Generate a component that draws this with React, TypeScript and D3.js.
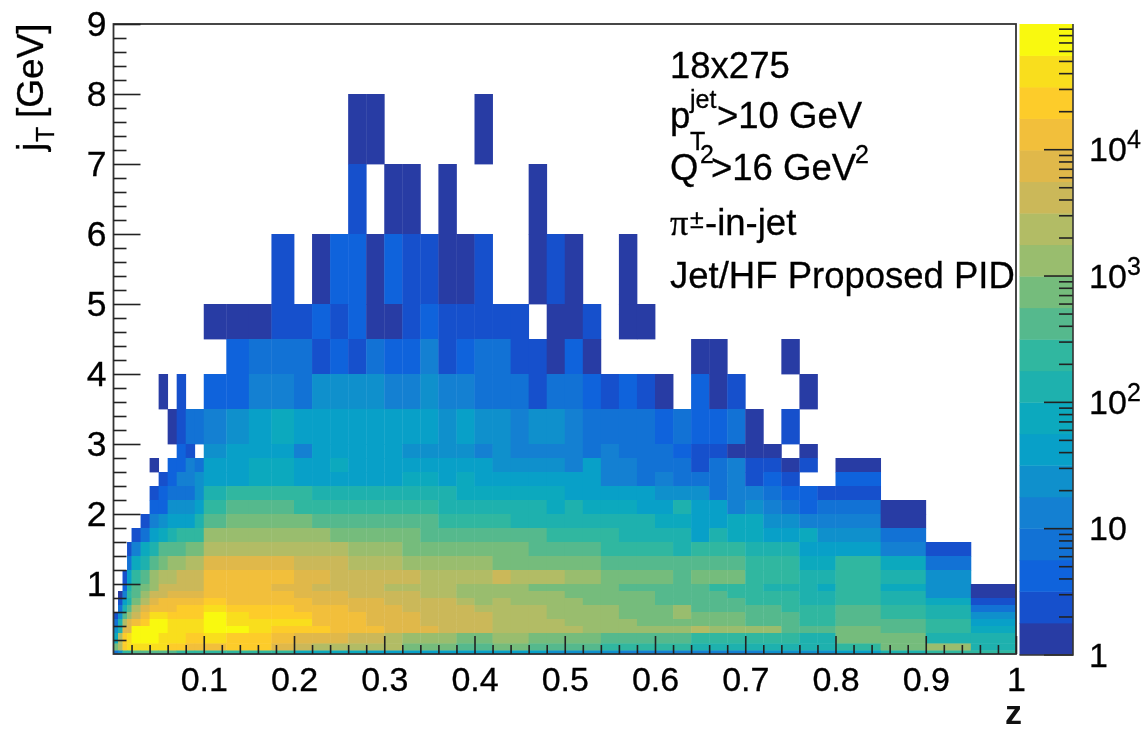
import React, { useRef, useEffect } from "react";
import { select, scaleLinear, scaleLog, scaleQuantize, axisBottom, axisLeft, axisRight, range } from "d3";

// bin edges
const zEdges = [
  0, 0.005, 0.01, 0.015, 0.02, 0.03, 0.04, 0.05, 0.06, 0.07, 0.08, 0.09, 0.1, 0.125, 0.15, 0.175, 0.2,
  0.22, 0.24, 0.26, 0.28, 0.3, 0.32, 0.34, 0.36, 0.38, 0.4, 0.42, 0.44, 0.46, 0.48, 0.5, 0.52, 0.54, 0.56, 0.58,
  0.6, 0.62, 0.64, 0.66, 0.68, 0.7, 0.72, 0.74, 0.76, 0.78, 0.8, 0.85, 0.9, 0.95, 1,
];
// top row first
const jtEdges = [
  8, 7, 6, 5, 4.5, 4, 3.5, 3, 2.8, 2.6, 2.4, 2.2, 2, 1.8, 1.6, 1.4, 1.2, 1, 0.9, 0.8, 0.7, 0.6, 0.5, 0.4, 0.3, 0.15,
  0.05, 0,
];

// colour band of each bin, read against the palette (0-9, a-j = band 0-19, . = empty)
const bandRows = [
  "............ .... ...00..... 0......... .......... ....",
  "............ .... ...1.00.0. ...0...... .......... ....",
  "............ ...1 .022021100 1..010..0. .......... ....",
  "............ 0001 1212001211 111.001.00 .......... ....",
  "............ .233 3121322412 3311020... ..00...0.. ....",
  ".......0.1.. 2244 3555544544 3331332121 0.201...0. ....",
  "........0133 4567 6666666656 5545543333 232230.1.. ....",
  ".........21. 5666 4666665555 4544443433 3211000.0. ....",
  "......0.2243 6677 6676666666 6555546443 331341101. 0...",
  ".......12445 6677 6666667767 6666666443 43334121.. 2...",
  "......123335 8999 9888888887 7777766666 5553443221 1...",
  "......225556 9aaa 9999999988 8888787776 6866454323 30..",
  ".....1456668 abbb baaaaaaa99 9988888888 7766775544 40..",
  "....13678999 cccc ccbbbbbaaa aaaa999988 8868776675 53..",
  "...1478aaabb dddd dddcccbbbb bbbaaaa999 9899988866 641.",
  "...378abccdd ffff eeedddcccc cbbbbbbaaa aaaaa99977 973.",
  "..169acddeee gggg ffeeeeeddd dedddccbbb babbb99988 985.",
  "..28abceeeee gggf feeeeddddc cccbbbbbaa aaa9998887 9750",
  ".049aceeffff gggg fffeeeeddc cccccbbbbb aaaa999988 9850",
  ".168bdfggggg hggg gffffeeeed cdccccbbbb aaaaa99988 9871",
  ".38adfggghhh ihhh gggfffeeee ddddccccbb bcaaaaa999 a983",
  "15acegiihhhh jihh hgggfffeee edddccccbb bcbbbaaa99 a985",
  "38dfghjjiiii jiii igggfffeee eddddccccb bbbbbaaa99 aa96",
  "58ffjjjjiiii jjih hhgggfffee edddddcccc ccdccccaaa ba97",
  "7dhijjjiiihh ihhg fffeedcccb bccbbbbaaa aa99999988 bb88",
  "bdhiiiiihhgg ghhf edddddbbba abbaaaa999 9988888888 9bc8",
  "3599aaaaa999 9999 7777666666 6666555544 4444445555 6899",
];

const palette = [
  "#283ca4", "#1650cc", "#0f63dc", "#1272d5", "#1480d2", "#0f90cc", "#08a0c8", "#0ca9be", "#1eb1ae", "#30b7a0",
  "#55b98d", "#75bc7c", "#99bd6e", "#b2bc65", "#cbb859", "#e0b84a", "#f2bf3b", "#fdcc2a", "#f9de1d", "#f9f90f",
];

const zMax = 9.8e4;
const zTicks = [1, 10, 100, 1000, 10000];
const zMinor = [2, 3, 4, 5, 6, 7, 8, 9];

const font = "'Liberation Sans', Arial, sans-serif";

function Annotation({ x, y, size = 36.5, family = font, children }: any) {
  return (
    <text x={x} y={y} fontSize={size} fontFamily={family} fill="#000" stroke="#000" strokeWidth={0.3}>
      {children}
    </text>
  );
}

export default function App() {
  const axesRef = useRef<SVGGElement>(null);
  const cellsRef = useRef<SVGGElement>(null);
  const barRef = useRef<SVGGElement>(null);

  useEffect(() => {
    const x = scaleLinear().domain([0, 1]).range([113.5, 1016]);
    const y = scaleLinear().domain([0, 9]).range([654, 24]);
    const logMax = Math.log10(zMax);
    const color = scaleQuantize<string>().domain([0, logMax]).range(palette);
    const zPos = scaleLog().domain([1, zMax]).range([654.5, 24]);

    // bins
    const cells: { c: number; r: number; value: number }[] = [];
    bandRows.forEach((row, r) => {
      row
        .replace(/ /g, "")
        .split("")
        .forEach((ch, c) => {
          if (ch === ".") return;
          const band = parseInt(ch, 20);
          cells.push({ c, r, value: Math.pow(10, ((band + 0.5) * logMax) / palette.length) });
        });
    });

    select(cellsRef.current)
      .selectAll("rect")
      .data(cells)
      .join("rect")
      .attr("x", (d) => x(zEdges[d.c]))
      .attr("y", (d) => y(jtEdges[d.r]))
      .attr("width", (d) => x(zEdges[d.c + 1]) - x(zEdges[d.c]) + 0.4)
      .attr("height", (d) => y(jtEdges[d.r + 1]) - y(jtEdges[d.r]) + 0.4)
      .attr("fill", (d) => color(Math.log10(d.value)));

    // axes, ticks point inward like ROOT's
    const axes = select(axesRef.current);
    axes.selectAll("*").remove();

    const xMajor = axisBottom(x)
      .tickValues(range(1, 11).map((d) => d / 10))
      .tickFormat((d) => String(+d))
      .tickSize(-18)
      .tickPadding(13);
    const xMinor = axisBottom(x)
      .tickValues(range(1, 50).filter((d) => d % 5 !== 0).map((d) => d / 50))
      .tickFormat(() => "")
      .tickSize(-9);
    const yMajor = axisLeft(y)
      .tickValues(range(1, 10))
      .tickSize(-27)
      .tickPadding(7);
    const yMinor = axisLeft(y)
      .tickValues(range(1, 45).filter((d) => d % 5 !== 0).map((d) => d / 5))
      .tickFormat(() => "")
      .tickSize(-13);

    const xG = axes.append("g").attr("transform", "translate(0,654)");
    xG.append("g").call(xMajor);
    xG.append("g").call(xMinor);
    const yG = axes.append("g").attr("transform", "translate(113.5,0)");
    yG.append("g").call(yMajor);
    yG.append("g").call(yMinor);

    axes.selectAll(".domain").remove();
    axes.selectAll("line").attr("stroke", "#222").attr("stroke-width", 1.6);
    axes
      .selectAll("text")
      .attr("font-size", 34)
      .attr("font-family", font)
      .attr("fill", "#000")
      .attr("stroke", "#000")
      .attr("stroke-width", 0.3);
    yG.selectAll("text").attr("font-size", 35.5);

    // palette bar
    const bar = select(barRef.current);
    bar.selectAll("*").remove();
    bar
      .append("g")
      .selectAll("rect")
      .data(palette)
      .join("rect")
      .attr("x", 1019.5)
      .attr("width", 53.5)
      .attr("y", (d) => zPos(Math.pow(10, color.invertExtent(d)[1])))
      .attr("height", (d) => zPos(Math.pow(10, color.invertExtent(d)[0])) - zPos(Math.pow(10, color.invertExtent(d)[1])) + 0.4)
      .attr("fill", (d) => d);

    const minorValues = zTicks
      .flatMap((t) => zMinor.map((m) => t * m))
      .filter((v) => v <= zMax);

    const barMajor = axisRight(zPos).tickValues(zTicks).tickSize(-29).tickFormat(() => "");
    const barMinor = axisRight(zPos).tickValues(minorValues).tickSize(-14).tickFormat(() => "");
    const barAxis = bar.append("g").attr("transform", "translate(1073,0)");
    barAxis.append("g").call(barMajor);
    barAxis.append("g").call(barMinor);
    barAxis.selectAll(".domain").remove();
    barAxis.selectAll("line").attr("stroke", "#222").attr("stroke-width", 1.6);
    bar
      .append("path")
      .attr("d", "M1073,24V655H1019.5")
      .attr("fill", "none")
      .attr("stroke", "#333")
      .attr("stroke-width", 1.6);

    // labels 1, 10, 10^2 ...
    const labels = bar.append("g").attr("font-family", font).attr("fill", "#000").attr("stroke", "#000").attr("stroke-width", 0.3);
    zTicks.forEach((t, i) => {
      const yy = zPos(t) + 12;
      const label = labels.append("text").attr("x", 1089).attr("y", yy).attr("font-size", 34);
      label.text(i < 2 ? String(t) : "10");
      if (i >= 2) {
        labels.append("text").attr("x", 1127).attr("y", yy - 13).attr("font-size", 25).text(String(i));
      }
    });
  }, []);

  return (
    <svg
      width={1147}
      height={730}
      style={{ position: "absolute", left: 0, top: 0, background: "#fff", filter: "blur(0.55px)" }}
    >
      <g ref={cellsRef} />
      <rect x={113.5} y={24} width={902.5} height={630} fill="none" stroke="#333" strokeWidth={1.8} />
      <g ref={axesRef} />
      <g ref={barRef} />

      <Annotation x={670} y={78}>18x275</Annotation>
      <Annotation x={670} y={128}>p</Annotation>
      <Annotation x={690} y={108} size={25}>jet</Annotation>
      <Annotation x={690} y={150} size={25}>T</Annotation>
      <Annotation x={717} y={128}>&gt;10 GeV</Annotation>
      <Annotation x={670} y={180}>Q</Annotation>
      <Annotation x={700} y={163} size={25}>2</Annotation>
      <Annotation x={711} y={180}>&gt;16 GeV</Annotation>
      <Annotation x={855} y={163} size={25}>2</Annotation>
      <Annotation x={670} y={235} family="'Liberation Serif', serif">π</Annotation>
      <Annotation x={690} y={228} size={25}>±</Annotation>
      <Annotation x={705} y={235}>-in-jet</Annotation>
      <Annotation x={670} y={288}>Jet/HF Proposed PID</Annotation>

      <text x={1005} y={724} fontSize={34} fontFamily={font} fontWeight="bold" fill="#111">z</text>
      <g transform="translate(43,0) rotate(-90)" fontFamily={font} fill="#000" stroke="#000" strokeWidth={0.3}>
        <text x={-151} y={0} fontSize={37}>j</text>
        <text x={-142} y={11} fontSize={25}>T</text>
        <text x={-118} y={0} fontSize={37}>[GeV]</text>
      </g>
    </svg>
  );
}
